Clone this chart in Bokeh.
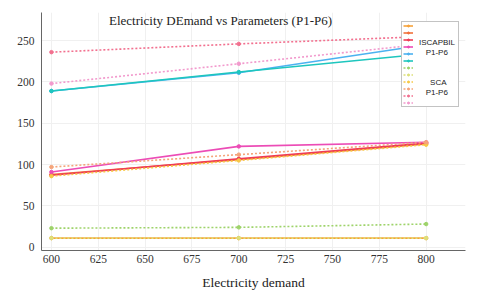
from bokeh.plotting import figure
from bokeh.models import Range1d, FixedTicker, Legend, LegendItem, Label
from bokeh.embed import file_html
from bokeh.resources import INLINE

x_vals = [600, 700, 800]

series_names = ["ISCAPBIL P1", "ISCAPBIL P2", "ISCAPBIL P3", "ISCAPBIL P4", "ISCAPBIL P5", "ISCAPBIL P6",
                "SCA P1", "SCA P2", "SCA P3", "SCA P4", "SCA P5", "SCA P6"]

isc_p1 = [11, 11, 11]
isc_p2 = [88, 106, 125]
isc_p3 = [87, 107, 126]
isc_p4 = [91, 122, 127]
isc_p5 = [189, 211, 245]
isc_p6 = [189, 212, 234]
sca_p1 = [23, 24, 28]
sca_p2 = [11, 11, 11]
sca_p3 = [86, 105, 124]
sca_p4 = [97, 112, 127]
sca_p5 = [236, 246, 255]
sca_p6 = [198, 222, 246]

series_values = [isc_p1, isc_p2, isc_p3, isc_p4, isc_p5, isc_p6,
                 sca_p1, sca_p2, sca_p3, sca_p4, sca_p5, sca_p6]

colors = ["#F7A33A", "#F2703A", "#EF3B55", "#EC4CB6", "#4CB2F0", "#1EC6BE",
          "#9ED36A", "#DDE07A", "#F7C948", "#F5A47A", "#F2708F", "#F29ACD"]

NB = "\u00a0"
legend_texts = ["ISCAPBIL", NB * 3 + "P1-P6", NB, NB, NB * 5 + "SCA", NB * 3 + "P1-P6"]

x_ticks = [600, 625, 650, 675, 700, 725, 750, 775, 800]
y_ticks = [0, 50, 100, 150, 200, 250]

p = figure(width=477, height=293, output_backend="svg", toolbar_location=None,
           x_range=Range1d(594.7, 821), y_range=Range1d(-4, 284),
           min_border_left=41, min_border_right=12, min_border_top=12, min_border_bottom=43)
p.outline_line_color = None
p.background_fill_color = "white"

serif = "Liberation Serif"
for ax in (p.xaxis[0], p.yaxis[0]):
    ax.axis_line_color = "#666666"
    ax.axis_line_width = 1
    ax.major_tick_line_color = None
    ax.minor_tick_line_color = None
    ax.major_tick_out = 0
    ax.major_tick_in = 0
    ax.minor_tick_out = 0
    ax.minor_tick_in = 0
    ax.major_label_text_font = serif
    ax.major_label_text_font_size = "11.5px"
    ax.major_label_text_color = "#333333"

p.xaxis[0].ticker = FixedTicker(ticks=x_ticks)
p.yaxis[0].ticker = FixedTicker(ticks=y_ticks)
p.xaxis[0].major_label_standoff = 4
p.yaxis[0].major_label_standoff = 7
p.xaxis[0].axis_label = "Electricity demand"
p.xaxis[0].axis_label_text_font = serif
p.xaxis[0].axis_label_text_font_size = "13.5px"
p.xaxis[0].axis_label_text_font_style = "normal"
p.xaxis[0].axis_label_text_color = "#222222"
p.xaxis[0].axis_label_standoff = 9

p.xgrid.grid_line_color = "#f0f0f0"
p.ygrid.grid_line_color = "#f0f0f0"
p.xgrid.ticker = FixedTicker(ticks=x_ticks)
p.ygrid.ticker = FixedTicker(ticks=y_ticks)

items = []
for i, (name, vals, c) in enumerate(zip(series_names, series_values, colors)):
    dash = "solid" if i < 6 else "2 2"
    r1 = p.line(x_vals, vals, line_color=c, line_width=1.6, line_dash=dash)
    r2 = p.scatter(x_vals, vals, size=3.5, fill_color=c, line_color=c)
    items.append(LegendItem(label=" ", renderers=[r1, r2]))

legend = Legend(items=items, location=(360, 143), orientation="vertical",
                glyph_width=10, glyph_height=5, label_height=5, spacing=2,
                padding=1, margin=0, label_width=38, label_standoff=6,
                label_text_font_size="4px",
                border_line_color="#888888", border_line_width=1,
                background_fill_color="white", background_fill_alpha=1)
p.add_layout(legend, "center")

# text block of the legend (drawn by a second, transparent legend)
dummy = p.scatter(x=[], y=[], fill_alpha=0, line_alpha=0)
text_items = [LegendItem(label=t, renderers=[dummy]) for t in legend_texts]
legend2 = Legend(items=text_items, location=(377, 153), orientation="vertical",
                 glyph_width=1, glyph_height=10, label_height=10, spacing=0,
                 padding=0, margin=0, label_standoff=0, label_width=1,
                 label_text_font="Liberation Sans", label_text_font_size="8px",
                 label_text_color="#222222",
                 border_line_color=None, background_fill_alpha=0)
p.add_layout(legend2, "center")

p.add_layout(Label(x=179, y=230, x_units="screen", y_units="screen",
                   text="Electricity DEmand vs Parameters (P1-P6)",
                   text_font=serif, text_font_size="13px", text_color="#222222",
                   text_align="center", text_baseline="middle", level="overlay"))

open("out.html", "w").write(file_html(p, INLINE))
